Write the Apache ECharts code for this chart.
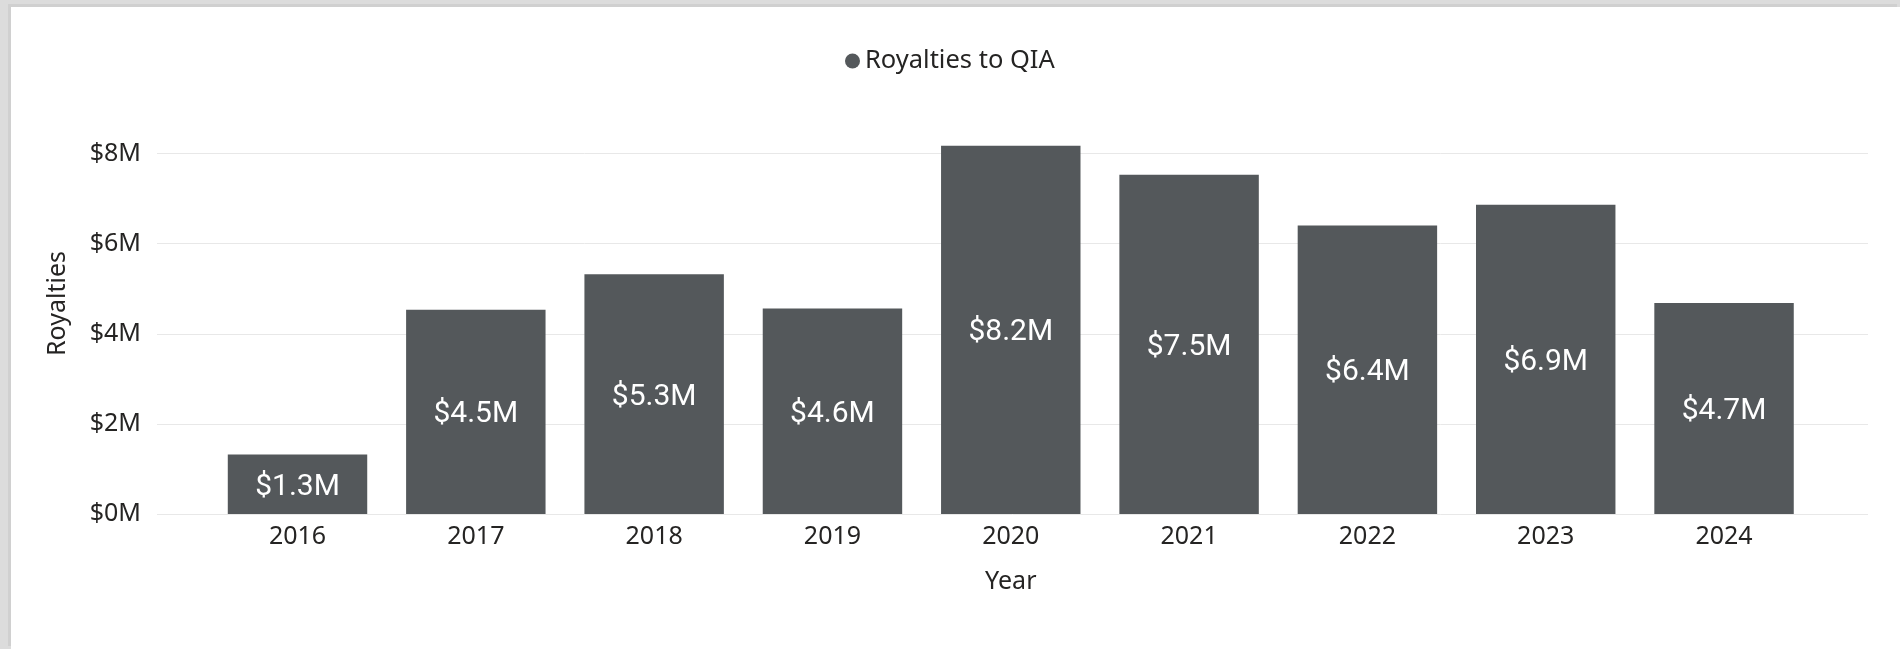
<!DOCTYPE html>
<html>
<head>
<meta charset="utf-8">
<script src="https://cdn.jsdelivr.net/npm/echarts@6/dist/echarts.min.js"></script>
<style>
  html, body { margin: 0; padding: 0; width: 1900px; height: 649px; overflow: hidden; background: #dcdcdc; }
  #chart { position: absolute; left: 11px; top: 7px; width: 1889px; height: 642px; background: #ffffff;
           box-shadow: -3px -3px 0 #d0d0d0; }
</style>
</head>
<body>
<div id="chart"></div>
<script>
// ---- data ----
const categories = ['2016', '2017', '2018', '2019', '2020', '2021', '2022', '2023', '2024'];
const royalties = [1320000, 4530000, 5320000, 4560000, 8170000, 7530000, 6400000, 6860000, 4680000];
const seriesName = 'Royalties to QIA';
const yTicks = [0, 2000000, 4000000, 6000000, 8000000];
const xAxisTitle = 'Year';
const yAxisTitle = 'Royalties';

// ---- chart ----
const chart = echarts.init(document.getElementById('chart'), null, { renderer: 'canvas' });
const textColor = '#252423';
const uiFont = 'Noto Sans';
const barColor = '#54585b';
const fmtM = v => '$' + Math.round(v / 1e6) + 'M';

const yMaxA = yTicks[yTicks.length - 1];
const gridAHeight = 360.5;
const gridBHeight = 421;
const yMaxB = yMaxA * gridBHeight / gridAHeight;

const option = {
  animation: false,
  legend: {
    data: [seriesName],
    left: 829,
    top: 36,
    icon: 'circle',
    itemWidth: 15,
    itemHeight: 15,
    textStyle: { fontFamily: uiFont, fontSize: 25.5, color: textColor }
  },
  grid: [
    { left: 146, right: 32, top: 146.5, bottom: 135 },
    { left: 197.35, right: 86.8, top: 86, bottom: 135 }
  ],
  xAxis: [
    { gridIndex: 0, type: 'value', show: false, min: 0, max: 1 },
    {
      gridIndex: 1, type: 'category', data: categories,
      axisLine: { show: false }, axisTick: { show: false },
      axisLabel: { margin: 10, fontFamily: uiFont, fontSize: 25, color: textColor },
      name: xAxisTitle, nameLocation: 'middle', nameGap: 55,
      nameTextStyle: { fontFamily: uiFont, fontSize: 25, color: textColor }
    }
  ],
  yAxis: [
    {
      gridIndex: 0, type: 'value', min: 0, max: yMaxA, interval: yTicks[1] - yTicks[0],
      axisLine: { show: false }, axisTick: { show: false },
      axisLabel: { margin: 16, fontFamily: uiFont, fontSize: 25, color: textColor, formatter: fmtM },
      splitLine: { show: true, lineStyle: { color: '#e8e8e8', width: 1 } }
    },
    {
      gridIndex: 1, type: 'value', min: 0, max: yMaxB,
      axisLine: { show: false }, axisTick: { show: false },
      axisLabel: { show: false }, splitLine: { show: false },
      name: yAxisTitle, nameLocation: 'middle', nameGap: 138,
      nameTextStyle: { fontFamily: uiFont, fontSize: 25, color: textColor }
    }
  ],
  series: [
    {
      name: seriesName,
      type: 'bar',
      xAxisIndex: 1,
      yAxisIndex: 1,
      data: royalties,
      barCategoryGap: '21.8%',
      itemStyle: { color: barColor },
      label: {
        show: true,
        position: 'inside',
        offset: [0, 3],
        color: '#ffffff',
        fontFamily: 'Roboto',
        fontSize: 30,
        formatter: p => '$' + (p.value / 1e6).toFixed(1) + 'M'
      }
    }
  ]
};
chart.setOption(option);
</script>
</body>
</html>
